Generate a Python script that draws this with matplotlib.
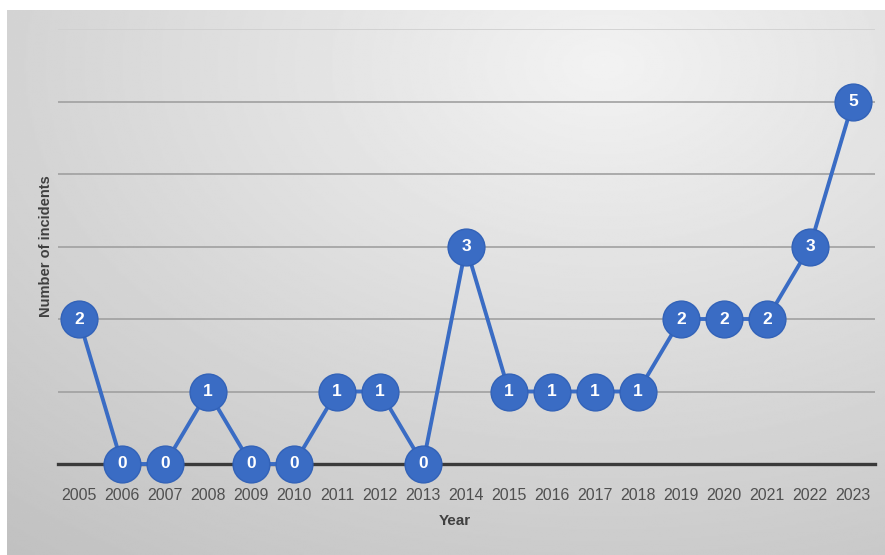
import numpy as np
import matplotlib
matplotlib.use("Agg")
import matplotlib.pyplot as plt

years = [2005, 2006, 2007, 2008, 2009, 2010, 2011, 2012, 2013, 2014,
         2015, 2016, 2017, 2018, 2019, 2020, 2021, 2022, 2023]
incidents = [2, 0, 0, 1, 0, 0, 1, 1, 0, 3, 1, 1, 1, 1, 2, 2, 2, 3, 5]
y_ticks = [1, 2, 3, 4, 5, 6]

W, H = 885, 555
fig = plt.figure(figsize=(W / 100, H / 100), dpi=100)
fig.patch.set_facecolor("white")

# gradient background panel
bg = fig.add_axes([7 / W, 0, 1 - 7 / W, (H - 10) / H])
bg.set_axis_off()
ny, nx = 300, 480
yy, xx = np.mgrid[0:1:ny * 1j, 0:1:nx * 1j]
cx, cy = 0.68, 0.10  # row 0 is top
d = np.sqrt(((xx - cx) / 0.95) ** 2 + ((yy - cy) / 1.0) ** 2)
val = 0.95 - 0.17 * np.clip(d, 0, 1.2)
bg.imshow(val, cmap="gray", vmin=0, vmax=1, aspect="auto",
          extent=[0, 1, 0, 1], interpolation="bilinear")

ax = fig.add_axes([57.5 / W, (H - 464) / H, 817 / W, 435 / H])
ax.patch.set_alpha(0)
ax.set_xlim(2004.5, 2023.5)
ax.set_ylim(0, 6)
for s in ax.spines.values():
    s.set_visible(False)

for t in y_ticks:
    ax.axhline(t, color="#a0a0a0" if t < 6 else "#cfcfcf", lw=1.2, zorder=1)
ax.axhline(0, color="#3a3a3a", lw=2.4, zorder=2, clip_on=False)

color = "#3a6cc4"
ax.plot(years, incidents, color=color, lw=2.8, zorder=3, clip_on=False)
ax.plot(years, incidents, "o", color=color, ms=26.5, mec="#3262b8", mew=1,
        zorder=4, clip_on=False)
for x, v in zip(years, incidents):
    ax.text(x, v, str(v), color="white", fontsize=12.5, fontweight="bold",
            ha="center", va="center", zorder=5, family="Liberation Sans")

ax.set_xticks(years)
ax.set_xticklabels([str(y) for y in years], fontsize=11.5, color="#505050",
                   family="Liberation Sans")
ax.tick_params(axis="x", length=0, pad=17)
ax.set_yticks([])
ax.set_ylabel("Number of incidents", fontsize=10.5, fontweight="bold",
              color="#404040", labelpad=3, family="Liberation Sans")
fig.text(455 / W, 1 - 521 / H, "Year", fontsize=11, fontweight="bold",
         color="#404040", ha="center", va="center", family="Liberation Sans")

fig.savefig("out.png", dpi=100)
